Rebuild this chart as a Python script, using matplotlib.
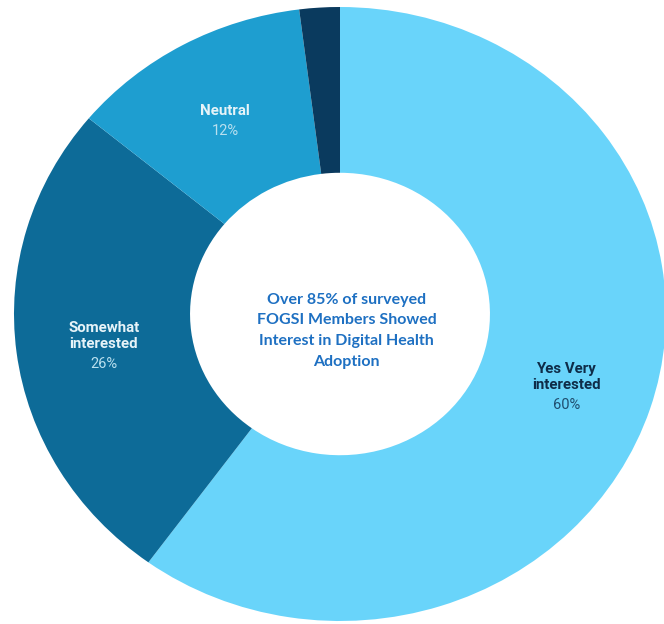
import numpy as np
import matplotlib
matplotlib.use("Agg")
import matplotlib.pyplot as plt

# survey answers, clockwise from 12 o'clock
categories = ["Yes Very\ninterested", "Somewhat\ninterested", "Neutral", ""]
shares = [60, 26, 12, 2]
pct_labels = ["60%", "26%", "12%", ""]
colors = ["#69D4FA", "#0D6B98", "#1E9ED0", "#0A3A5E"]
name_colors = ["#0E2C48", "#E6F3F8", "#E6F3F8", "#FFFFFF"]
pct_colors = ["#1F4D6E", "#B9E0EF", "#B9E0EF", "#FFFFFF"]
center_text = "Over 85% of surveyed\nFOGSI Members Showed\nInterest in Digital Health\nAdoption"

W, H = 664, 624
fig = plt.figure(figsize=(W / 100, H / 100), dpi=100)
# donut is a bit wider than tall in the reference
cx, cy, rx, ry = 340, 314, 326, 307
ax = fig.add_axes([(cx - rx) / W, 1 - (cy + ry) / H, 2 * rx / W, 2 * ry / H])

wedges, _ = ax.pie(shares, colors=colors, startangle=90, counterclock=False,
                   radius=1.0, wedgeprops=dict(width=0.54, linewidth=0))
ax.set_aspect("auto")
ax.set_xlim(-1, 1)
ax.set_ylim(-1, 1)
ax.axis("off")

L = 13.0  # line height in points
for w, name, pct, nc, pc in zip(wedges, categories, pct_labels, name_colors, pct_colors):
    if not name:
        continue
    ang = np.deg2rad((w.theta1 + w.theta2) / 2)
    x, y = 0.73 * np.cos(ang), 0.73 * np.sin(ang)
    n = name.count("\n") + 1
    ax.annotate(name, (x, y), xytext=(0, L / 2 - 2), textcoords="offset points",
                ha="center", va="center", fontsize=10.8, fontweight="bold",
                family="Roboto", color=nc, linespacing=1.15)
    ax.annotate(pct, (x, y), xytext=(0, -n * L / 2 - 3), textcoords="offset points",
                ha="center", va="center", fontsize=10.5, family="Roboto", color=pc)

ax.text(0.02, -0.055, center_text, ha="center", va="center", fontsize=11.5,
        fontweight="bold", family="Lato", color="#1E70C2", linespacing=1.62)

fig.savefig("out.png", dpi=100)
